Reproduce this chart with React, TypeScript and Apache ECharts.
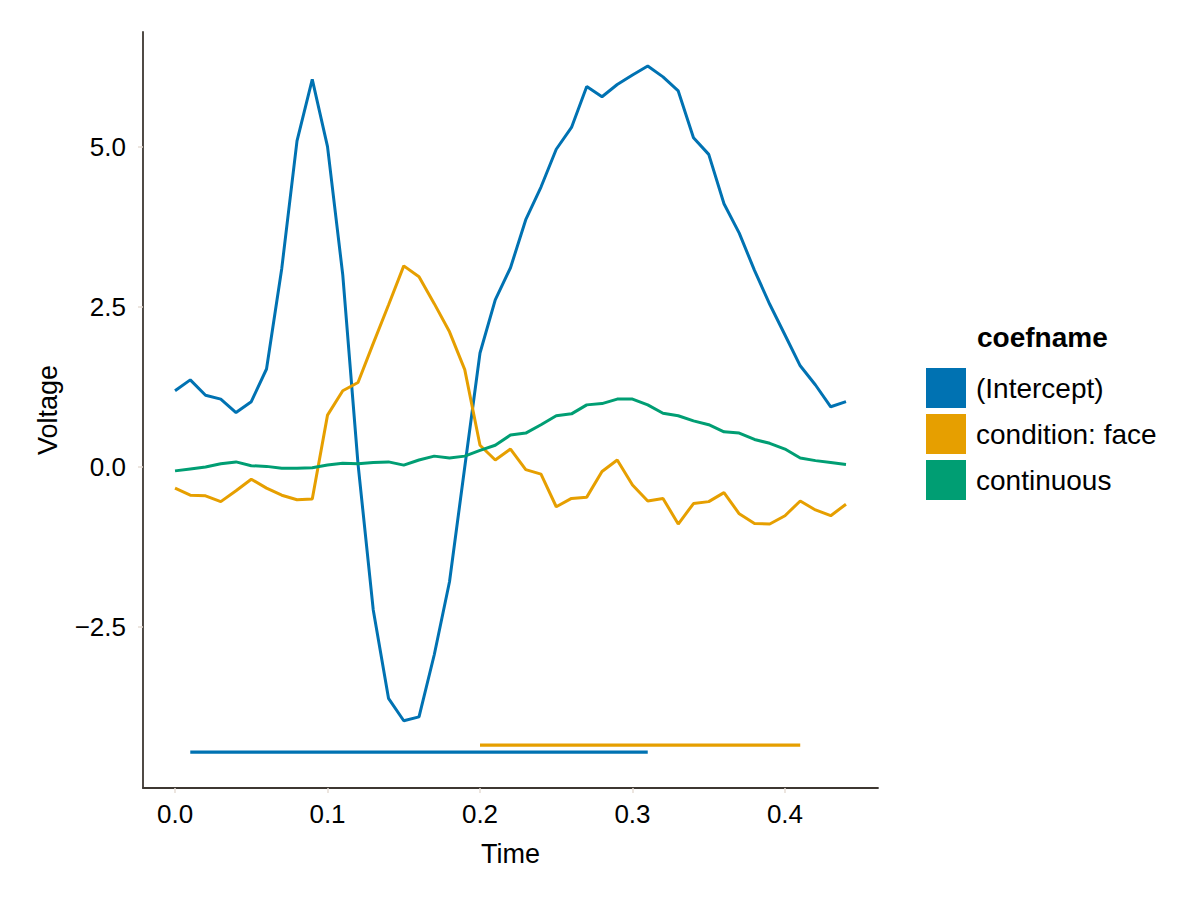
import React, { useEffect, useRef } from "react";
import * as echarts from "echarts";

const times = [
  0.0, 0.01, 0.02, 0.03, 0.04, 0.05, 0.06, 0.07, 0.08, 0.09,
  0.1, 0.11, 0.12, 0.13, 0.14, 0.15, 0.16, 0.17, 0.18, 0.19,
  0.2, 0.21, 0.22, 0.23, 0.24, 0.25, 0.26, 0.27, 0.28, 0.29,
  0.3, 0.31, 0.32, 0.33, 0.34, 0.35, 0.36, 0.37, 0.38, 0.39,
  0.4, 0.41, 0.42, 0.43, 0.44,
];

const intercept = [
  1.19, 1.36, 1.12, 1.06, 0.85, 1.02, 1.53, 3.1, 5.09, 6.05,
  5.0, 3.0, 0.05, -2.23, -3.61, -3.96, -3.9, -2.93, -1.79, 0.0,
  1.78, 2.61, 3.11, 3.86, 4.37, 4.96, 5.3, 5.94, 5.78, 5.97,
  6.12, 6.26, 6.09, 5.87, 5.14, 4.88, 4.11, 3.65, 3.07, 2.54,
  2.06, 1.58, 1.28, 0.94, 1.02,
];

const conditionFace = [
  -0.33, -0.44, -0.45, -0.54, -0.37, -0.19, -0.33, -0.44, -0.51, -0.5,
  0.81, 1.19, 1.32, 1.93, 2.53, 3.14, 2.97, 2.55, 2.11, 1.52,
  0.34, 0.11, 0.28, -0.04, -0.11, -0.62, -0.49, -0.47, -0.07, 0.11,
  -0.28, -0.53, -0.49, -0.89, -0.57, -0.54, -0.4, -0.73, -0.88, -0.89,
  -0.76, -0.53, -0.67, -0.76, -0.58,
];

const continuous = [
  -0.06, -0.03, 0.0, 0.05, 0.08, 0.02, 0.01, -0.02, -0.02, -0.01,
  0.03, 0.06, 0.05, 0.07, 0.08, 0.03, 0.11, 0.17, 0.14, 0.17,
  0.26, 0.34, 0.5, 0.53, 0.66, 0.8, 0.83, 0.97, 0.99, 1.06,
  1.06, 0.97, 0.84, 0.8, 0.72, 0.66, 0.55, 0.53, 0.43, 0.37,
  0.28, 0.14, 0.1, 0.07, 0.04,
];

// significance intervals: [start, end, level]
const interceptSig = [0.01, 0.31, -4.45];
const faceSig = [0.2, 0.41, -4.34];

const coefNames = ["(Intercept)", "condition: face", "continuous"];
const colors = ["#0072B2", "#E69F00", "#009E73"];
const xTicks = [0.0, 0.1, 0.2, 0.3, 0.4];
const yTicks = [-2.5, 0.0, 2.5, 5.0];

const FONT = "'Liberation Sans', Arial, Helvetica, sans-serif";

export default function App() {
  const ref = useRef<HTMLDivElement>(null);

  useEffect(() => {
    if (!ref.current) return;
    const chart = echarts.init(ref.current, undefined, { renderer: "svg" });
    const seriesValues = [intercept, conditionFace, continuous];

    const lineSeries = coefNames.map((name, i) => ({
      name,
      type: "line",
      data: times.map((t, k) => [t, seriesValues[i][k]]),
      showSymbol: false,
      symbol: "none",
      lineStyle: { color: colors[i], width: 3 },
      itemStyle: { color: colors[i] },
      z: 3,
    }));

    const sigSeries = [
      { s: interceptSig, c: colors[0], n: "sig-intercept" },
      { s: faceSig, c: colors[1], n: "sig-face" },
    ].map((o) => ({
      name: o.n,
      type: "line",
      data: [
        [o.s[0], o.s[2]],
        [o.s[1], o.s[2]],
      ],
      showSymbol: false,
      symbol: "none",
      lineStyle: { color: o.c, width: 3.2 },
      itemStyle: { color: o.c },
      z: 2,
    }));

    const axisCommon = {
      axisLine: {
        show: true,
        onZero: false,
        lineStyle: { color: "#3d3731", width: 1.8 },
      },
      axisTick: {
        show: true,
        inside: false,
        length: 5,
        lineStyle: { color: "#e6ddd4", width: 1.5 },
      },
      splitLine: { show: false },
      nameTextStyle: { fontFamily: FONT, fontSize: 27, color: "#000" },
    };

    chart.setOption({
      animation: false,
      backgroundColor: "#ffffff",
      grid: { left: 143, top: 32, right: 322, bottom: 112, containLabel: false },
      xAxis: {
        type: "value",
        min: -0.021,
        max: 0.461,
        name: "Time",
        nameLocation: "middle",
        nameGap: 52,
        ...axisCommon,
        axisTick: { ...axisCommon.axisTick, customValues: xTicks },
        axisLabel: {
          customValues: xTicks,
          formatter: (v: number) => v.toFixed(1),
          fontFamily: FONT,
          fontSize: 26,
          color: "#000",
          margin: 13,
        },
      },
      yAxis: {
        type: "value",
        min: -5.01,
        max: 6.79,
        name: "Voltage",
        nameLocation: "middle",
        nameGap: 82,
        nameRotate: 90,
        ...axisCommon,
        axisTick: { ...axisCommon.axisTick, customValues: yTicks },
        axisLabel: {
          customValues: yTicks,
          formatter: (v: number) => v.toFixed(1).replace("-", "\u2212"),
          fontFamily: FONT,
          fontSize: 26,
          color: "#000",
          margin: 17,
        },
      },
      legend: {
        data: coefNames.map((n) => ({ name: n, icon: "rect" })),
        orient: "vertical",
        left: 926,
        top: 368,
        itemWidth: 40,
        itemHeight: 40,
        itemGap: 6,
        padding: 0,
        selectedMode: false,
        textStyle: {
          fontFamily: FONT,
          fontSize: 28,
          color: "#000",
          padding: [0, 0, 0, 5],
        },
      },
      graphic: [
        {
          type: "text",
          left: 977,
          top: 323,
          style: {
            text: "coefname",
            fontFamily: FONT,
            fontSize: 28,
            fontWeight: "bold",
            fill: "#000",
          },
        },
      ],
      series: [...lineSeries, ...sigSeries],
    });

    return () => chart.dispose();
  }, []);

  return (
    <div
      ref={ref}
      style={{ position: "fixed", left: 0, top: 0, width: 1200, height: 900 }}
    />
  );
}
